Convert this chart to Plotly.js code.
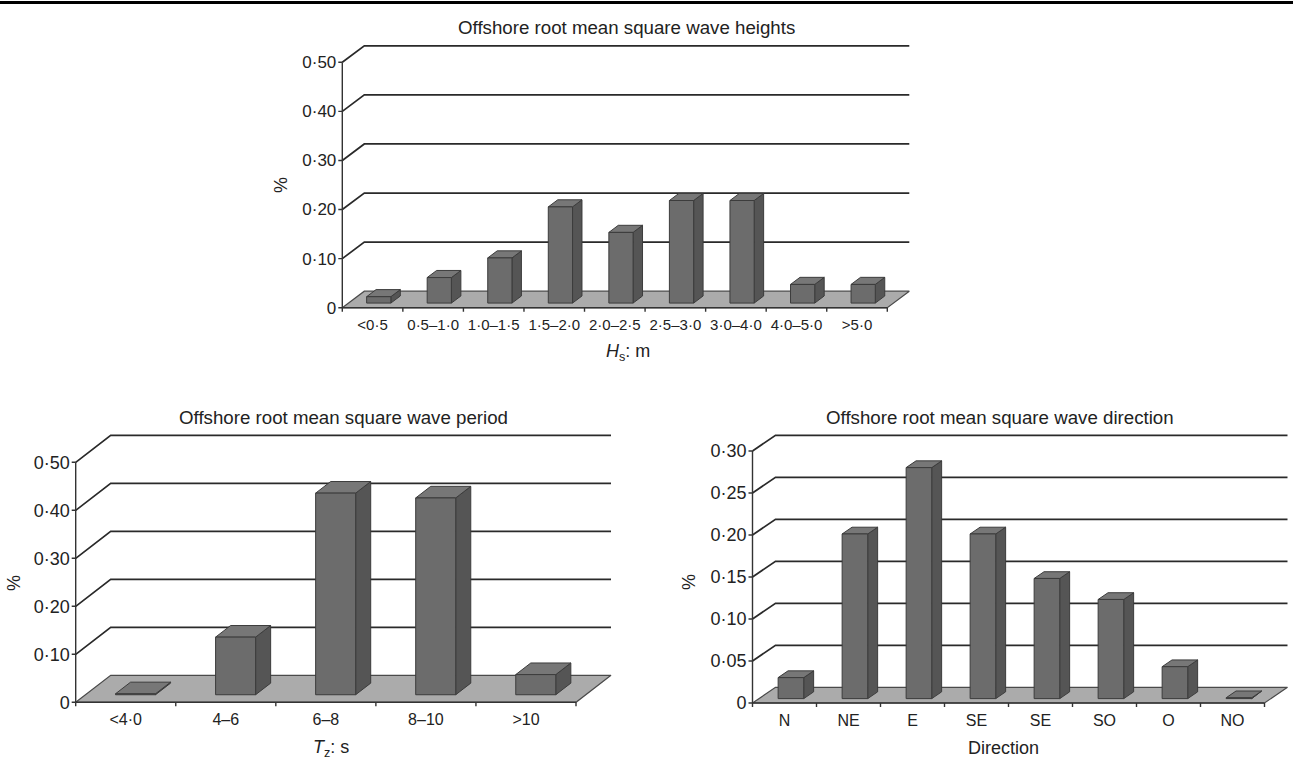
<!DOCTYPE html>
<html>
<head>
<meta charset="utf-8">
<script src="https://cdn.plot.ly/plotly-3.0.1.min.js"></script>
<style>html,body{margin:0;padding:0;background:#fff;}#chart{width:1293px;height:762px;}</style>
</head>
<body>
<div id="chart"></div>
<script>
// ---------------- data ----------------
const hsCategories = ['<0·5','0·5–1·0','1·0–1·5','1·5–2·0','2·0–2·5','2·5–3·0','3·0–4·0','4·0–5·0','>5·0'];
const hsValues     = [0.013, 0.052, 0.092, 0.196, 0.144, 0.209, 0.209, 0.038, 0.038];
const hsTickVals   = [0, 0.1, 0.2, 0.3, 0.4, 0.5];
const hsTickText   = ['0', '0·10', '0·20', '0·30', '0·40', '0·50'];

const tzCategories = ['<4·0','4–6','6–8','8–10','>10'];
const tzValues     = [0.002, 0.12, 0.42, 0.41, 0.042];
const tzTickVals   = [0, 0.1, 0.2, 0.3, 0.4, 0.5];
const tzTickText   = ['0', '0·10', '0·20', '0·30', '0·40', '0·50'];

const dirCategories = ['N','NE','E','SE','SE','SO','O','NO'];
const dirValues     = [0.025, 0.196, 0.275, 0.196, 0.143, 0.118, 0.038, 0.001];
const dirTickVals   = [0, 0.05, 0.1, 0.15, 0.2, 0.25, 0.3];
const dirTickText   = ['0', '0·05', '0·10', '0·15', '0·20', '0·25', '0·30'];

// ---------------- styling / geometry (pixels) ----------------
const W = 1293, H = 762;
const FONT = 'Liberation Sans, Arial, Helvetica, sans-serif';
const TXT = '#222';
const panels = [
  {ax:'', cats:hsCategories, vals:hsValues, tv:hsTickVals, tt:hsTickText, ymax:0.5,
   left:342.3, right:887.3, zero:307.7, top:62.3, dx:22, dy:16.5, xfont:15, yfont:17},
  {ax:'2', cats:tzCategories, vals:tzValues, tv:tzTickVals, tt:tzTickText, ymax:0.5,
   left:75.7, right:576, zero:702.3, top:462.3, dx:35, dy:27, xfont:16, yfont:18},
  {ax:'3', cats:dirCategories, vals:dirValues, tv:dirTickVals, tt:dirTickText, ymax:0.3,
   left:752.5, right:1264.5, zero:703, top:451, dx:23, dy:15.7, xfont:16, yfont:18}
];
const padL = 5, padB = 6, padT = 3, padR = 3, tickLen = 4;
const barW = 0.4, f0 = 0.28, f1 = 0.71;

const traces = [];
const layout = {
  width: W, height: H, margin: {l:0, r:0, t:0, b:0},
  paper_bgcolor: '#fff', plot_bgcolor: 'rgba(0,0,0,0)',
  showlegend: false, font: {family: FONT, color: TXT},
  annotations: [], shapes: []
};

function poly(xs, ys, X, Y) { xs.push(...X, X[0], null); ys.push(...Y, Y[0], null); }

panels.forEach(p => {
  const n = p.cats.length;
  const catPx = (p.right - p.left) / n;
  const ppu = (p.zero - p.top) / p.ymax;
  const DX = p.dx / catPx, DY = p.dy / ppu;
  const xa = 'x' + p.ax, ya = 'y' + p.ax;
  const xKey = 'xaxis' + p.ax, yKey = 'yaxis' + p.ax;
  const xL = -0.5, xR = n - 0.5;

  layout[xKey] = {
    domain: [(p.left - padL) / W, (p.right + p.dx + padR) / W],
    range: [xL - padL / catPx, xR + DX + padR / catPx],
    tickmode: 'array', tickvals: p.cats.map((c, i) => i), ticktext: p.cats,
    ticks: '', showgrid: false, zeroline: false, showline: false,
    tickfont: {size: p.xfont, family: FONT, color: TXT}, fixedrange: true,
    anchor: ya
  };
  layout[yKey] = {
    domain: [1 - (p.zero + padB) / H, 1 - (p.top - p.dy - padT) / H],
    range: [-padB / ppu, p.ymax + DY + padT / ppu],
    tickmode: 'array', tickvals: p.tv, ticktext: p.tt,
    ticks: '', showgrid: false, zeroline: false, showline: false,
    tickfont: {size: p.yfont, family: FONT, color: TXT}, fixedrange: true,
    anchor: xa
  };

  const base = {xaxis: xa, yaxis: ya, hoverinfo: 'skip', mode: 'lines'};

  // floor
  traces.push(Object.assign({}, base, {
    x: [xL, xR, xR + DX, xL + DX, xL], y: [0, 0, DY, DY, 0],
    fill: 'toself', fillcolor: '#ababab', line: {color: '#4a4a4a', width: 1.2}
  }));

  // gridlines: side-wall diagonal + back-wall horizontal
  const gx = [], gy = [];
  p.tv.forEach(v => {
    if (v === 0) return;
    gx.push(xL, xL + DX, xR + DX, null);
    gy.push(v, v + DY, v + DY, null);
  });
  traces.push(Object.assign({}, base, {x: gx, y: gy, line: {color: '#2a2a2a', width: 1.7}}));

  // front axis line + y ticks + x ticks
  const ax = [xL, xL, null], ay = [0, p.ymax, null];
  p.tv.forEach(v => { ax.push(xL - tickLen / catPx, xL, null); ay.push(v, v, null); });
  for (let k = 0; k <= n; k++) { ax.push(xL + k, xL + k, null); ay.push(0, -tickLen / ppu, null); }
  ax.push(xL, xR, null); ay.push(0, 0, null);
  traces.push(Object.assign({}, base, {x: ax, y: ay, line: {color: '#333', width: 1.4}}));

  // 3-D bars
  const fx = [], fy = [], sx = [], sy = [], tx = [], ty = [];
  p.vals.forEach((v, i) => {
    const a0 = i - barW / 2 + f0 * DX, b0 = i + barW / 2 + f0 * DX;
    const a1 = i - barW / 2 + f1 * DX, b1 = i + barW / 2 + f1 * DX;
    const z0 = f0 * DY, z1 = f1 * DY;
    poly(fx, fy, [a0, b0, b0, a0], [z0, z0, v + z0, v + z0]);
    poly(sx, sy, [b0, b1, b1, b0], [z0, z1, v + z1, v + z0]);
    poly(tx, ty, [a0, b0, b1, a1], [v + z0, v + z0, v + z1, v + z1]);
  });
  const edge = {color: '#3c3c3c', width: 1};
  traces.push(Object.assign({}, base, {x: sx, y: sy, fill: 'toself', fillcolor: '#555555', line: edge}));
  traces.push(Object.assign({}, base, {x: tx, y: ty, fill: 'toself', fillcolor: '#777777', line: edge}));
  traces.push(Object.assign({}, base, {x: fx, y: fy, fill: 'toself', fillcolor: '#6c6c6c', line: edge}));
});

// titles and axis titles
function ann(text, xpx, ypx, size, angle) {
  layout.annotations.push({
    text: text, xref: 'paper', yref: 'paper', x: xpx / W, y: 1 - ypx / H,
    xanchor: 'center', yanchor: 'middle', showarrow: false, textangle: angle || 0,
    font: {family: FONT, size: size, color: TXT}
  });
}
ann('Offshore root mean square wave heights', 626, 28, 18.7);
ann('Offshore root mean square wave period', 343, 418, 18.7);
ann('Offshore root mean square wave direction', 1000, 418, 18.7);
ann('%', 281, 185, 18, -90);
ann('%', 14, 583, 18, -90);
ann('%', 689, 582, 18, -90);
ann('<i>H</i><sub>s</sub>: m', 628, 353, 18);
ann('<i>T</i><sub>z</sub>: s', 331, 748, 18);
ann('Direction', 1003, 748, 18);

// top rule
layout.shapes.push({type: 'line', xref: 'paper', yref: 'paper', x0: 0, x1: 1, y0: 1 - 2.5 / H, y1: 1 - 2.5 / H,
  line: {color: '#000', width: 3}});

Plotly.newPlot('chart', traces, layout, {staticPlot: true, displayModeBar: false});
</script>
</body>
</html>
